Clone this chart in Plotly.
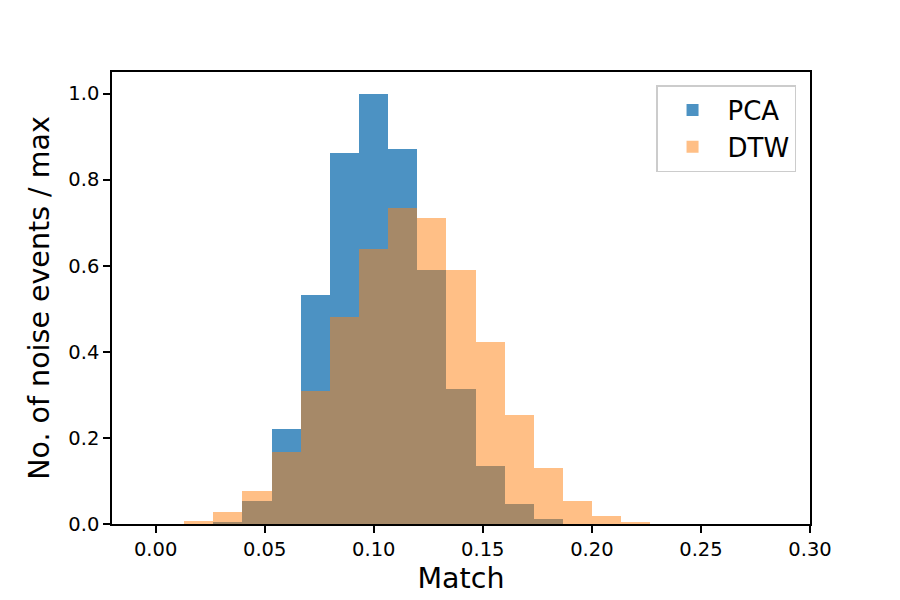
import plotly.graph_objects as go

# Histogram bins (shared edges)
bin_start = 0.0131
bin_width = 0.01336
n_bins = 16

pca_values = [0.0, 0.005, 0.053, 0.220, 0.533, 0.861, 1.000, 0.870,
              0.589, 0.314, 0.134, 0.046, 0.011, 0.0, 0.0, 0.0]
dtw_values = [0.007, 0.028, 0.076, 0.167, 0.308, 0.480, 0.638, 0.734,
              0.711, 0.591, 0.422, 0.254, 0.129, 0.054, 0.019, 0.005]

series_names = ["PCA", "DTW"]
x_ticks = [0.00, 0.05, 0.10, 0.15, 0.20, 0.25, 0.30]
y_ticks = [0.0, 0.2, 0.4, 0.6, 0.8, 1.0]

centers = [bin_start + (i + 0.5) * bin_width for i in range(n_bins)]

FONT = "DejaVu Sans"

fig = go.Figure()
fig.add_trace(go.Bar(
    x=centers, y=pca_values, width=bin_width, name=series_names[0],
    marker=dict(color="rgba(31,119,180,0.8)", line=dict(width=0)),
))
fig.add_trace(go.Bar(
    x=centers, y=dtw_values, width=bin_width, name=series_names[1],
    marker=dict(color="rgba(255,127,14,0.5)", line=dict(width=0)),
))

axis_common = dict(
    showgrid=False, zeroline=False, showline=True, mirror=True,
    linecolor="black", linewidth=1.6, ticks="outside", ticklen=7,
    tickwidth=1.6, tickcolor="black",
    tickfont=dict(family=FONT, size=19.5, color="black"),
)

fig.update_layout(
    width=900, height=600,
    margin=dict(l=112, r=90, t=72, b=76),
    paper_bgcolor="white", plot_bgcolor="white",
    barmode="overlay", bargap=0,
    font=dict(family=FONT, color="black"),
    showlegend=True,
    legend=dict(
        x=0.98, y=0.971, xanchor="right", yanchor="top",
        bgcolor="rgba(255,255,255,0.8)", bordercolor="#cccccc", borderwidth=1.5,
        font=dict(family=FONT, size=26, color="black"),
        traceorder="normal", itemwidth=60,
    ),
    xaxis=dict(
        range=[-0.02, 0.30], tickvals=x_ticks, tickformat=".2f",
        title=dict(text="Match", font=dict(family=FONT, size=28.5, color="black"), standoff=8),
        **axis_common,
    ),
    yaxis=dict(
        range=[0, 1.05], tickvals=y_ticks, tickformat=".1f",
        title=dict(text="No. of noise events / max", font=dict(family=FONT, size=28.5, color="black"), standoff=10),
        **axis_common,
    ),
)

fig.write_html("out.html")
